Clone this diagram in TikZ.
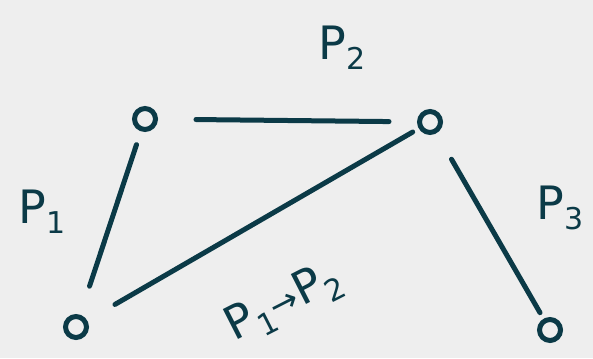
\documentclass[tikz,border=0pt]{standalone}
\usepackage{fontspec}
\setmainfont{DejaVu Sans}
\usetikzlibrary{arrows.meta}
\definecolor{ink}{HTML}{0B3A47}
\definecolor{paper}{HTML}{EEEEEE}
\newcommand{\sub}[1]{\raisebox{-0.22em}{\fontsize{30}{30}\selectfont #1}}

\begin{document}
\begin{tikzpicture}[
  x=1pt, y=-1pt, line width=5pt, line cap=round, ink,
  pt/.style={draw=ink, circle, line width=5pt, minimum size=21pt, inner sep=0pt},
  edge/.style={draw=ink},
  lab/.style={text=ink, font=\fontsize{46}{46}\selectfont, inner sep=0pt}]
% ---------- paper
\fill[paper] (0,0) rectangle (593,358);
\useasboundingbox (0,0) rectangle (593,358);
% ---------- points
\node[pt] (a) at (145,119) {};
\node[pt] (b) at (430,122) {};
\node[pt] (c) at (76,327) {};
\node[pt] (d) at (550,330) {};
% ---------- edges
\draw[edge, shorten <=14pt, shorten >=30pt] (a) -- (c);
\draw[edge, shorten <=38pt, shorten >=28pt] (a) -- (b);
\draw[edge, shorten <=32pt, shorten >=7pt] (c) -- (b);
\draw[edge, shorten <=30pt, shorten >=7pt] (b) -- (d);
% ---------- labels
\node[lab] (p1) at (42,212) {P\sub{1}};
\node[lab] (p2) at (342,48) {P\sub{2}};
\node[lab] (p3) at (560,208) {P\sub{3}};
\node[lab, rotate=27] (p12) at (284,303) {P\sub{1}{\fontsize{34}{34}\selectfont →}P\sub{2}};
\end{tikzpicture}
\end{document}
